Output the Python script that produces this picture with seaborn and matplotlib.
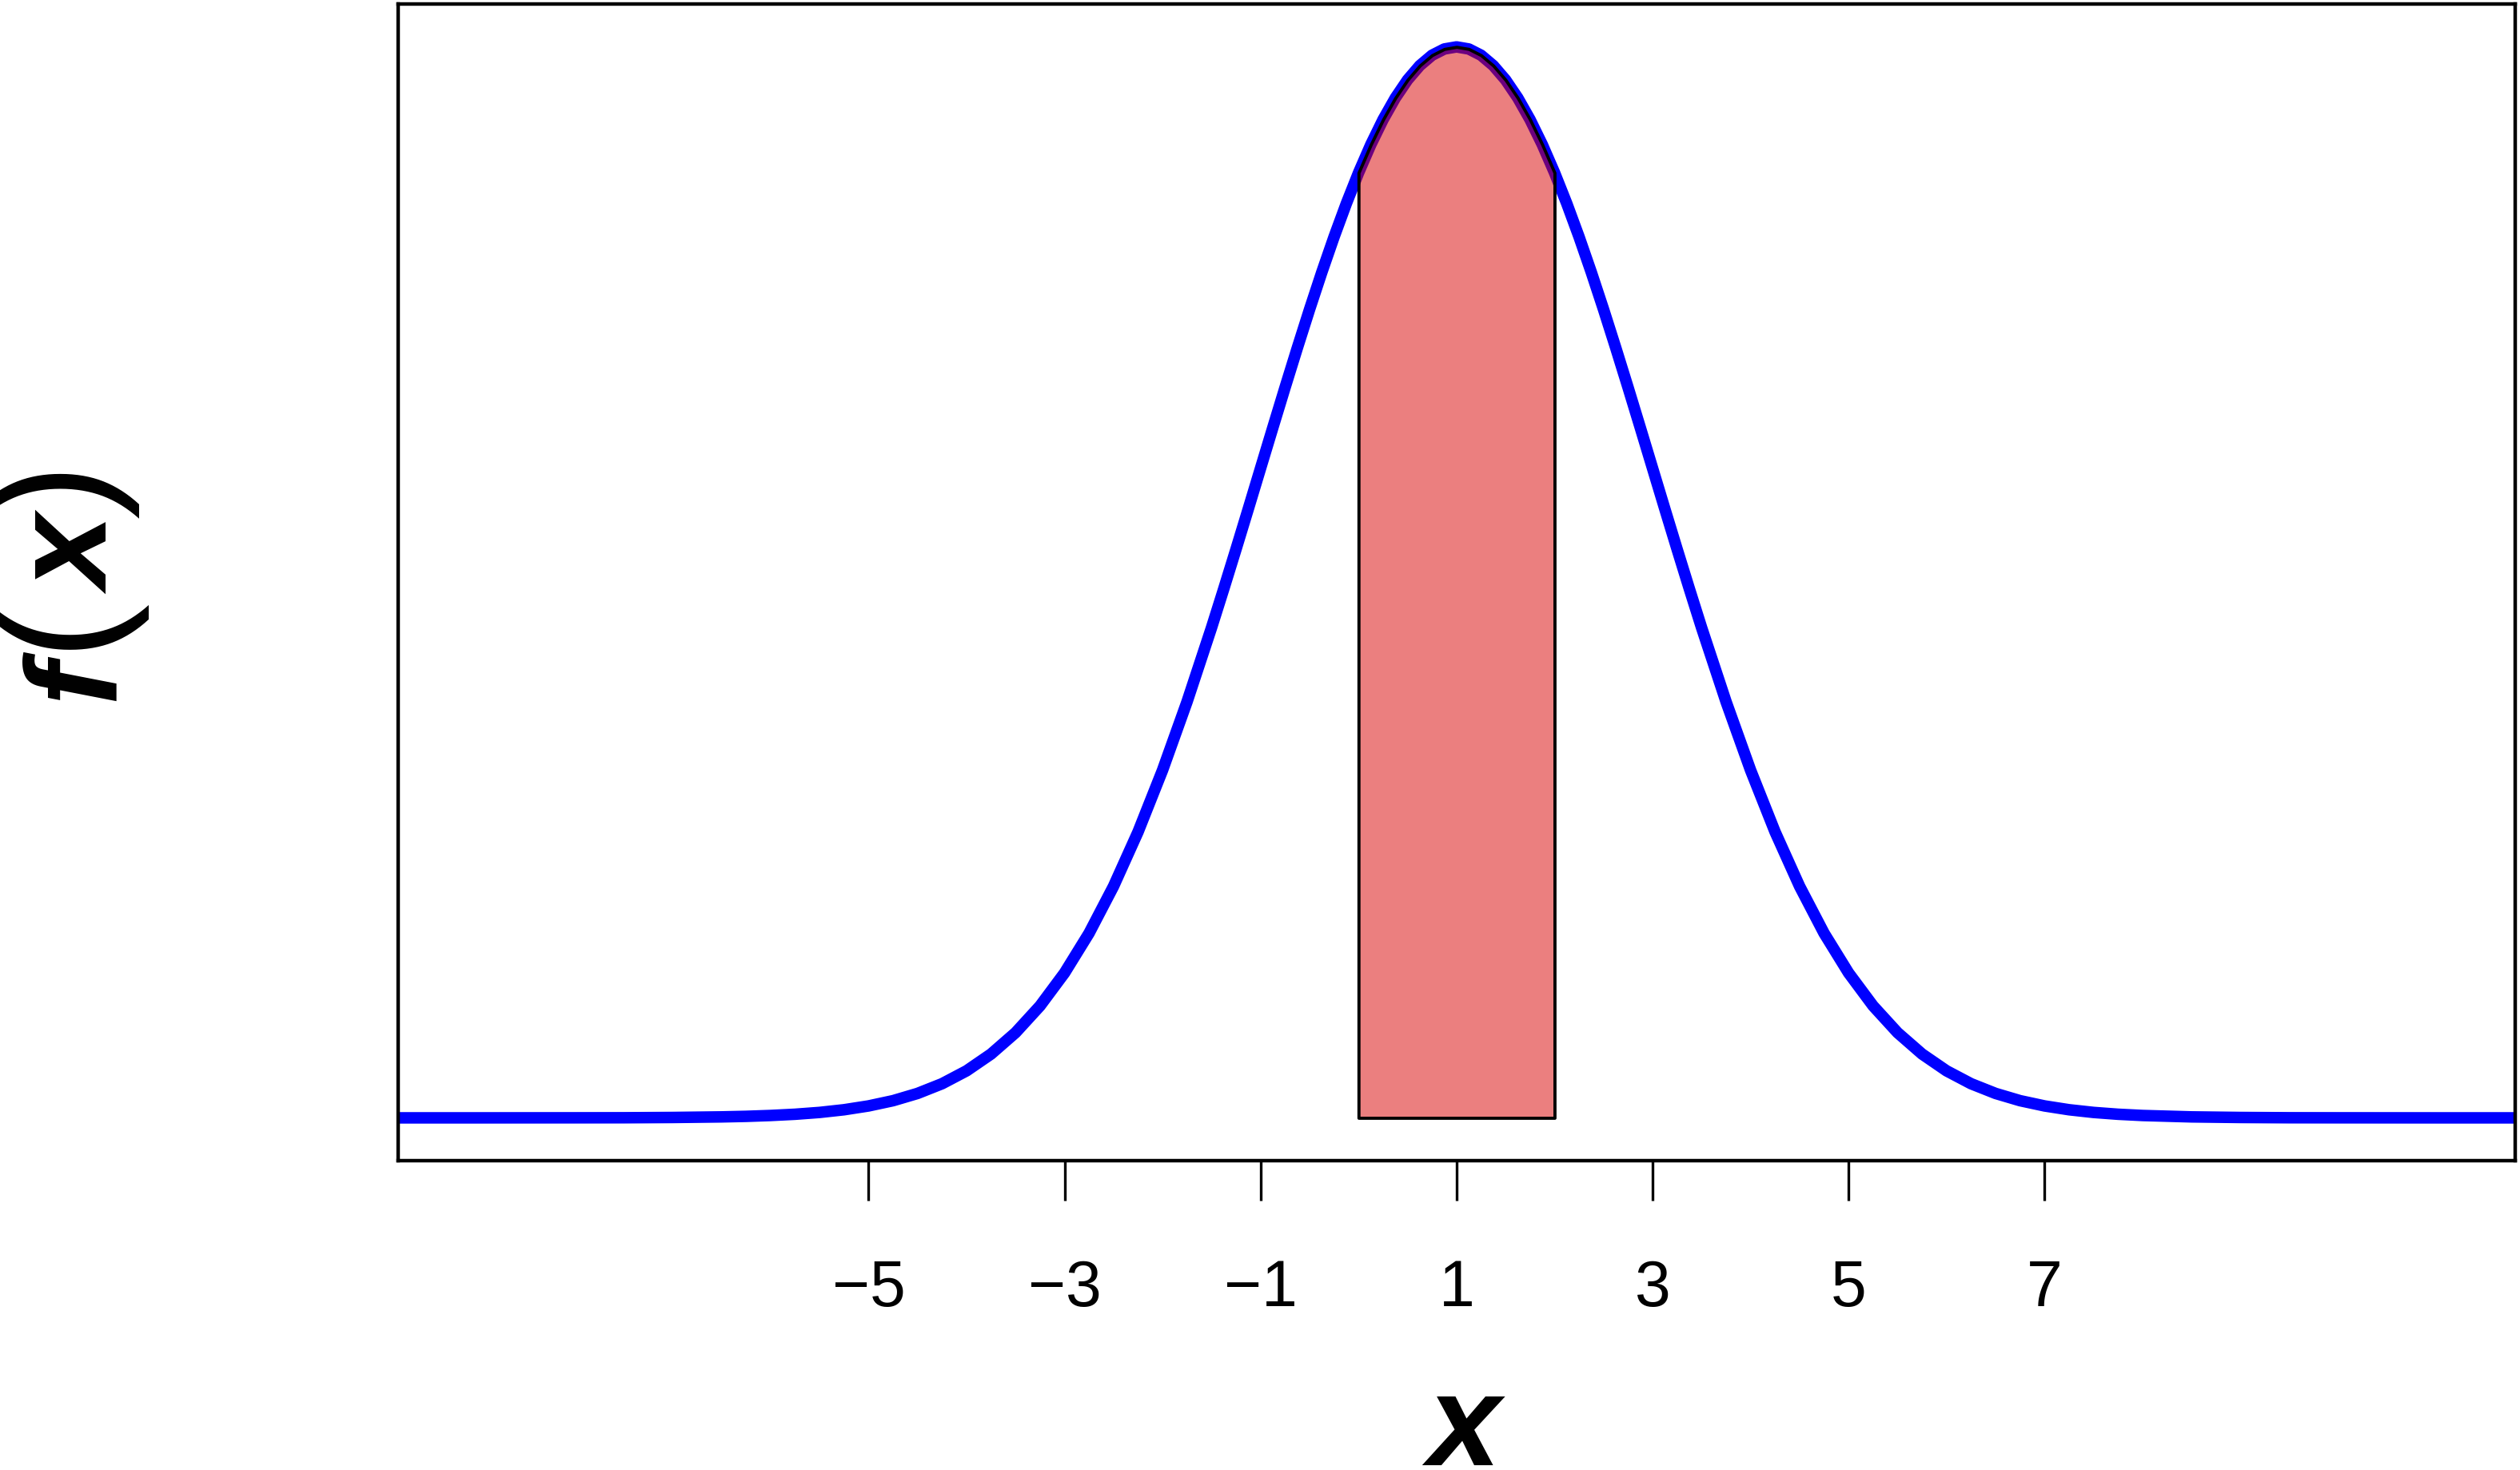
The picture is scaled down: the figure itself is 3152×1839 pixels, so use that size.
import pandas as pd
import seaborn as sns
from matplotlib import pyplot as plt

# Density curve (normal shape, peak at x = 1)
x_vals = [-10, -9, -8, -7.5, -7, -6.5, -6.25, -6, -5.75, -5.5, -5.25,
          -5, -4.75, -4.5, -4.25, -4, -3.75, -3.5, -3.25, -3, -2.75,
          -2.5, -2.25, -2, -1.75,
          -1.5, -1.375, -1.25, -1.125, -1, -0.875, -0.75, -0.625, -0.5, -0.375,
          -0.25, -0.125, 0, 0.125, 0.25, 0.375, 0.5, 0.625, 0.75, 0.875,
          1, 1.125, 1.25, 1.375, 1.5, 1.625, 1.75, 1.875, 2, 2.125,
          2.25, 2.375, 2.5, 2.625, 2.75, 2.875, 3, 3.125, 3.25, 3.375, 3.5,
          3.75, 4, 4.25, 4.5, 4.75,
          5, 5.25, 5.5, 5.75, 6, 6.25, 6.5, 6.75, 7,
          7.25, 7.5, 7.75, 8, 8.5, 9, 9.5, 10, 11, 12]
dens = [0.0, 0.0, 0.00001, 0.00002, 0.00007, 0.00018, 0.00028, 0.00044, 0.00067, 0.00101, 0.00151,
        0.00222, 0.00320, 0.00455, 0.00636, 0.00876, 0.01189, 0.01587, 0.02086, 0.02700, 0.03439,
        0.04314, 0.05327, 0.06476, 0.07751,
        0.09132, 0.09856, 0.10594, 0.11343, 0.12099, 0.12854, 0.13603, 0.14339, 0.15057, 0.15749,
        0.16408, 0.17028, 0.17603, 0.18127, 0.18593, 0.18996, 0.19333, 0.19599, 0.19792, 0.19908,
        0.19947, 0.19908, 0.19792, 0.19599, 0.19333, 0.18996, 0.18593, 0.18127, 0.17603, 0.17028,
        0.16408, 0.15749, 0.15057, 0.14339, 0.13603, 0.12854, 0.12099, 0.11343, 0.10594, 0.09856, 0.09132,
        0.07751, 0.06476, 0.05327, 0.04314, 0.03439,
        0.02700, 0.02086, 0.01587, 0.01189, 0.00876, 0.00636, 0.00455, 0.00320, 0.00222,
        0.00151, 0.00101, 0.00067, 0.00044, 0.00018, 0.00007, 0.00002, 0.00001, 0.0, 0.0]

# shaded interval
shade_lo = 0
shade_hi = 2

# plotted x range (data -9..11 plus padding)
x_lo, x_hi = -9.8, 11.8

tick_pos = [-5, -3, -1, 1, 3, 5, 7]
tick_labels = ["\u22125", "\u22123", "\u22121", "1", "3", "5", "7"]

df = pd.DataFrame({"x": x_vals, "f": dens})

sns.set_style("white")
plt.rcParams['font.family'] = ['Liberation Sans', 'DejaVu Sans']
plt.rcParams['text.color'] = 'black'

fig = plt.figure(figsize=(15.76, 9.2), dpi=200)
ax = fig.add_axes([0.158, 0.2103, 0.84, 0.7864])

sns.lineplot(data=df, x="x", y="f", color="blue", linewidth=5.2, ax=ax,
             zorder=2, solid_joinstyle="round")

sub = df[(df.x >= shade_lo) & (df.x <= shade_hi)]
ax.fill_between(sub.x, sub.f, 0, facecolor=(0.85, 0, 0, 0.5),
                edgecolor="black", lw=1.4, zorder=3, joinstyle="round")

ymax = max(dens)
ax.set_xlim(x_lo, x_hi)
ax.set_ylim(-0.04 * ymax, 1.04 * ymax)
ax.set_xticks(tick_pos, tick_labels)
ax.set_yticks([])
ax.tick_params(axis="x", bottom=True, length=18, width=1.2, pad=26,
               labelsize=29, color="black", labelcolor="black", direction="out")
for s in ax.spines.values():
    s.set_color("black")
    s.set_linewidth(1.6)
ax.set_xlabel("")
ax.set_ylabel("")

W, H = 3152, 1840

# x axis label
fig.text(1831 / W, 1 - 1833 / H, "x", ha="center", va="baseline",
         fontsize=59, fontweight="bold", fontstyle="italic", color="black")

# y axis label f(x), drawn in pieces (rotated)
ypieces = [("f", 140, 850, 58, "bold", "italic"),
           ("(", 130, 777, 76, "normal", "normal"),
           ("x", 140, 697, 60, "bold", "italic"),
           (")", 130, 613, 76, "normal", "normal")]
for txt, px, py, fs, fw, fst in ypieces:
    fig.text(px / W, 1 - py / H, txt, rotation=90, rotation_mode="anchor",
             ha="center", va="baseline", fontsize=fs, fontweight=fw,
             fontstyle=fst, color="black")

fig.savefig("out.png", dpi=200)
